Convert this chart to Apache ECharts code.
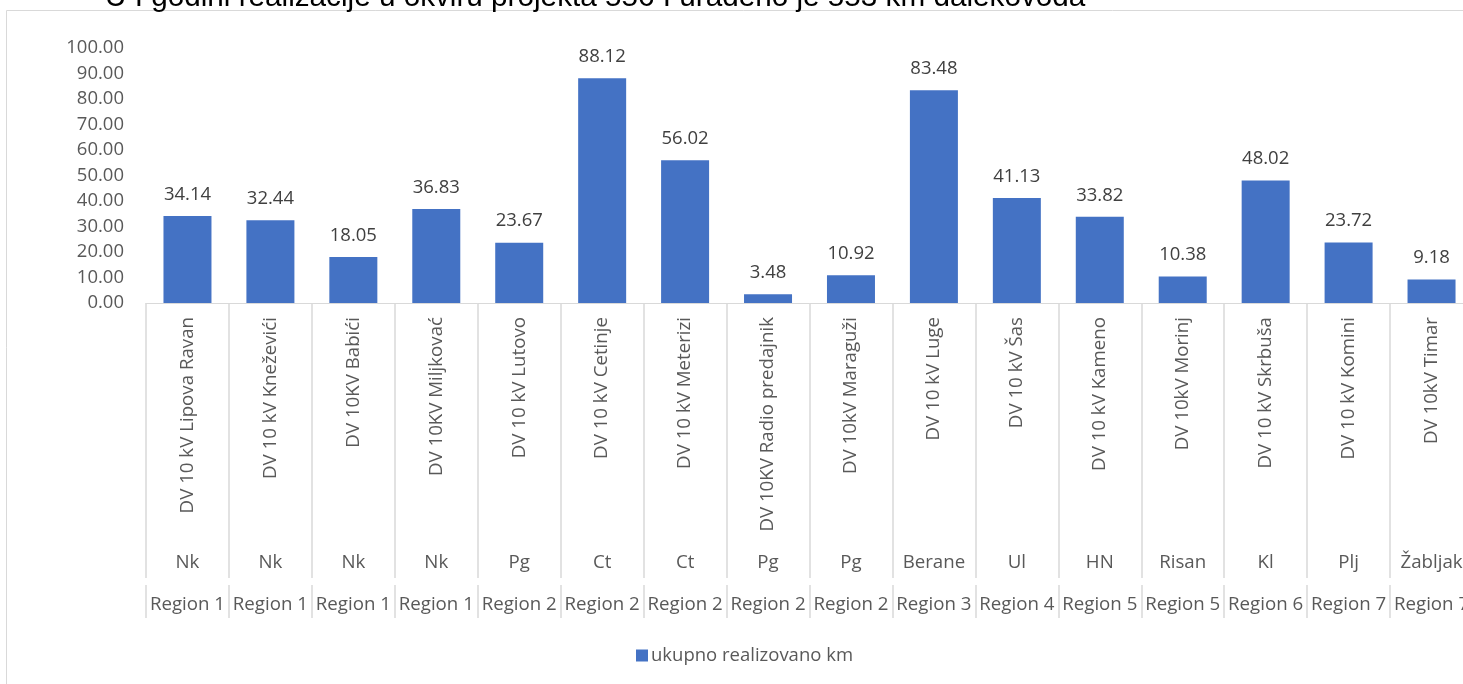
<!DOCTYPE html>
<html>
<head>
<meta charset="utf-8">
<script src="https://cdn.jsdelivr.net/npm/echarts@6/dist/echarts.min.js"></script>
<style>
html,body{margin:0;padding:0;background:#fff;overflow:hidden;width:1463px;height:684px;}
#c{width:1480px;height:684px;}
</style>
</head>
<body>
<div id="c"></div>
<script>
const titleText = "U I godini realizacije u okviru projekta 556 I urađeno je 553 km dalekovoda";
const seriesName = "ukupno realizovano km";
const lines = ["DV 10 kV Lipova Ravan","DV 10 kV Kneževići","DV 10KV Babići","DV 10KV Miljkovać","DV 10 kV Lutovo","DV 10 kV Cetinje","DV 10 kV Meterizi","DV 10KV Radio predajnik","DV 10kV Maraguži","DV 10 kV Luge","DV 10 kV Šas","DV 10 kV Kameno","DV 10kV Morinj","DV 10 kV Skrbuša","DV 10 kV Komini","DV 10kV Timar"];
const cities = ["Nk","Nk","Nk","Nk","Pg","Ct","Ct","Pg","Pg","Berane","Ul","HN","Risan","Kl","Plj","Žabljak"];
const regions = ["Region 1","Region 1","Region 1","Region 1","Region 2","Region 2","Region 2","Region 2","Region 2","Region 3","Region 4","Region 5","Region 5","Region 6","Region 7","Region 7"];
const values = [34.14,32.44,18.05,36.83,23.67,88.12,56.02,3.48,10.92,83.48,41.13,33.82,10.38,48.02,23.72,9.18];

const FONT = "Open Sans";
const TXT = "#595959";
const GRID = "#d9d9d9";

const chart = echarts.init(document.getElementById('c'));
chart.setOption({
  animation:false,
  textStyle:{fontFamily:FONT},
  graphic:[
    {type:'rect', shape:{x:6.5,y:10.5,width:1500,height:700}, style:{fill:'none',stroke:GRID,lineWidth:1}, silent:true, z:-1},
    {type:'text', left:105, top:-17, style:{text:titleText, font:'29.7px "Liberation Sans"', fill:'#000'}, silent:true}
  ],
  legend:{
    left:631, top:641, itemWidth:12, itemHeight:12, itemGap:6,
    icon:'rect',
    textStyle:{fontFamily:FONT, fontSize:18.5, color:TXT, padding:[0,0,0,-2]},
    data:[seriesName]
  },
  grid:{left:146, top:48, width:1327, height:255, containLabel:false},
  xAxis:[
    {
      type:'category', data:lines, position:'bottom',
      axisLine:{show:true, lineStyle:{color:GRID, width:1}},
      axisTick:{show:true, length:275, interval:0, lineStyle:{color:GRID, width:1.5}},
      axisLabel:{interval:0, rotate:90, margin:14, fontFamily:FONT, fontSize:18.7, color:TXT},
      splitLine:{show:false}
    },
    {
      type:'category', data:cities, position:'bottom',
      axisLine:{show:false}, axisTick:{show:false},
      axisLabel:{interval:0, margin:250, fontFamily:FONT, fontSize:18.7, color:TXT}
    },
    {
      type:'category', data:regions, position:'bottom', offset:282,
      axisLine:{show:false},
      axisTick:{show:true, length:33, interval:0, lineStyle:{color:GRID, width:1.5}},
      axisLabel:{interval:0, margin:10, fontFamily:FONT, fontSize:18.7, color:TXT}
    }
  ],
  yAxis:{
    type:'value', min:0, max:100, interval:10,
    axisLine:{show:false}, axisTick:{show:false}, splitLine:{show:false},
    axisLabel:{margin:22, fontFamily:FONT, fontSize:18.5, color:TXT, formatter:v=>v.toFixed(2)}
  },
  series:[{
    name:seriesName, type:'bar', data:values, barWidth:48,
    itemStyle:{color:'#4472c4'},
    label:{show:true, position:'top', distance:12, fontFamily:FONT, fontSize:18.5, color:'#404040', formatter:p=>p.value.toFixed(2)}
  }]
});
</script>
</body>
</html>
